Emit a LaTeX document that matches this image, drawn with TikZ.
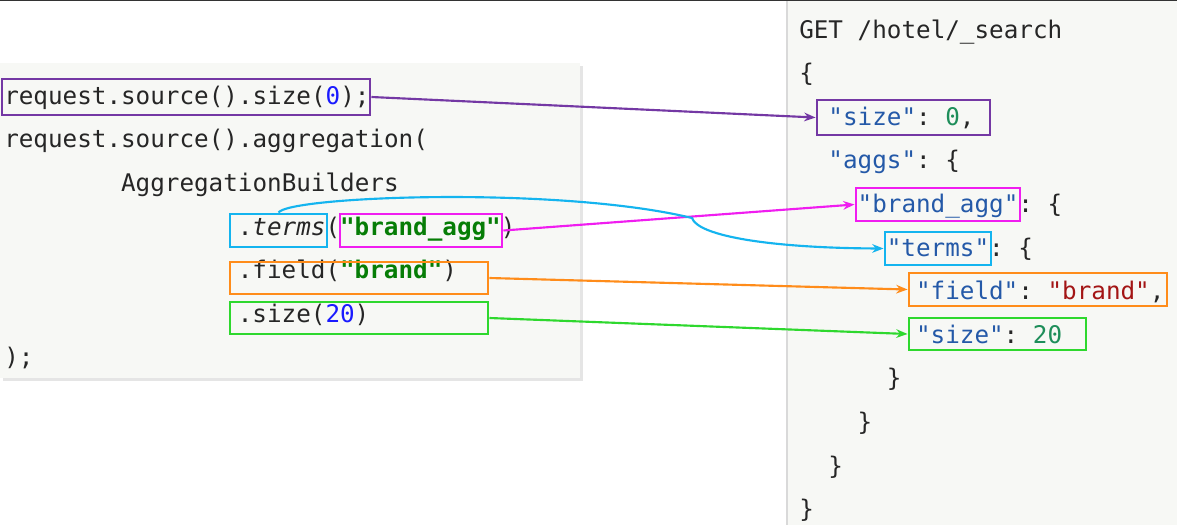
\documentclass[tikz,border=0pt]{standalone}
\usepackage{fontspec}
\setmonofont{DejaVu Sans Mono}
\usetikzlibrary{arrows.meta,fit}

\begin{document}
\begin{tikzpicture}[x=0.75pt,y=-0.75pt,
  code/.style={anchor=base west,inner sep=0pt,font=\ttfamily\fontsize{18.2}{20}\selectfont,text=codetext},
  hbox/.style={draw=#1,line width=2.2pt,inner sep=0pt,rectangle},
  link/.style={draw=#1,line width=1.6pt,-{Stealth[length=8.5pt,width=6.5pt]}}]
% Define colors
\definecolor{panel}{HTML}{F7F8F5}
\definecolor{codetext}{HTML}{262626}
\definecolor{jnum}{HTML}{1A1AFF}
\definecolor{jstr}{HTML}{067D06}
\definecolor{dkey}{HTML}{2459A8}
\definecolor{dnum}{HTML}{1E8E5A}
\definecolor{dstr}{HTML}{A31515}
\definecolor{boxpurple}{HTML}{7438A4}
\definecolor{boxcyan}{HTML}{14B4EF}
\definecolor{boxmagenta}{HTML}{F01DF0}
\definecolor{boxorange}{HTML}{FF8C1A}
\definecolor{boxgreen}{HTML}{2ED82E}

\useasboundingbox (0,0) rectangle (1177,525);
\fill[white] (0,0) rectangle (1177,525);

% Draw panels
\fill[black!10] (3,66) rectangle (583,381);
\fill[panel] (0,63) rectangle (580,378);
\fill[panel] (787,0) rectangle (1177,525);
\draw[black!15,line width=1.5pt] (787,0) -- (787,525);
\draw[black!80,line width=1.2pt] (0,0.5) -- (1177,0.5);

% Java code
\node[code] (j1) at (4,104) {request.source().size(\textcolor{jnum}{0});};
\node[code] (j2) at (4,147.5) {request.source().aggregation(};
\node[code] (j3) at (120.8,191) {AggregationBuilders};
\node[code] (j4) at (237.6,235) {.\textit{terms}(\textcolor{jstr}{\textbf{"brand\_agg"}})};
\node[code] (j5) at (237.6,278) {.field(\textcolor{jstr}{\textbf{"brand"}})};
\node[code] (j6) at (237.6,322) {.size(\textcolor{jnum}{20})};
\node[code] (j7) at (4,365) {);};

% DSL request
\node[code] (d0) at (799,38) {GET /hotel/\_search};
\node[code] (d1) at (799,81.6) {\{};
\node[code] (d2) at (828.2,125.2) {\textcolor{dkey}{"size"}: \textcolor{dnum}{0},};
\node[code] (d3) at (828.2,168.8) {\textcolor{dkey}{"aggs"}: \{};
\node[code] (d4) at (857.4,212.4) {\textcolor{dkey}{"brand\_agg"}: \{};
\node[code] (d5) at (886.6,256) {\textcolor{dkey}{"terms"}: \{};
\node[code] (d6) at (915.8,299.6) {\textcolor{dkey}{"field"}: \textcolor{dstr}{"brand"},};
\node[code] (d7) at (915.8,343.2) {\textcolor{dkey}{"size"}: \textcolor{dnum}{20}};
\node[code] (d8) at (886.6,386.8) {\}};
\node[code] (d9) at (857.4,430.4) {\}};
\node[code] (d10) at (828.2,474) {\}};
\node[code] (d11) at (799,517.6) {\}};

% Highlight boxes
\node[hbox=boxpurple,fit={(2,79) (370,115)}] (javaSize) {};
\node[hbox=boxcyan,fit={(230,214) (327,247)}] (javaTerms) {};
\node[hbox=boxmagenta,fit={(340,214) (502,247)}] (javaName) {};
\node[hbox=boxorange,fit={(230,262) (488,294)}] (javaField) {};
\node[hbox=boxgreen,fit={(230,302) (488,334)}] (javaCount) {};

\node[hbox=boxpurple,fit={(817,100) (990,135)}] (dslSize) {};
\node[hbox=boxmagenta,fit={(856,188) (1020,221)}] (dslName) {};
\node[hbox=boxcyan,fit={(885,232) (991,265)}] (dslTerms) {};
\node[hbox=boxorange,fit={(909,273) (1167,306)}] (dslField) {};
\node[hbox=boxgreen,fit={(909,318) (1086,350)}] (dslCount) {};

% Connectors
\draw[link=boxpurple] (javaSize.east) -- (dslSize.west);
\draw[link=boxmagenta] (javaName.east) -- (dslName.west);
\draw[link=boxorange] (javaField.east) -- (dslField.west);
\draw[link=boxgreen] (javaCount.east) -- (dslCount.west);
\draw[link=boxcyan] (javaTerms.north) .. controls (290,196) and (560,186) .. (692,218)
  .. controls (698,236) and (770,248) .. (dslTerms.west);
\end{tikzpicture}
\end{document}
